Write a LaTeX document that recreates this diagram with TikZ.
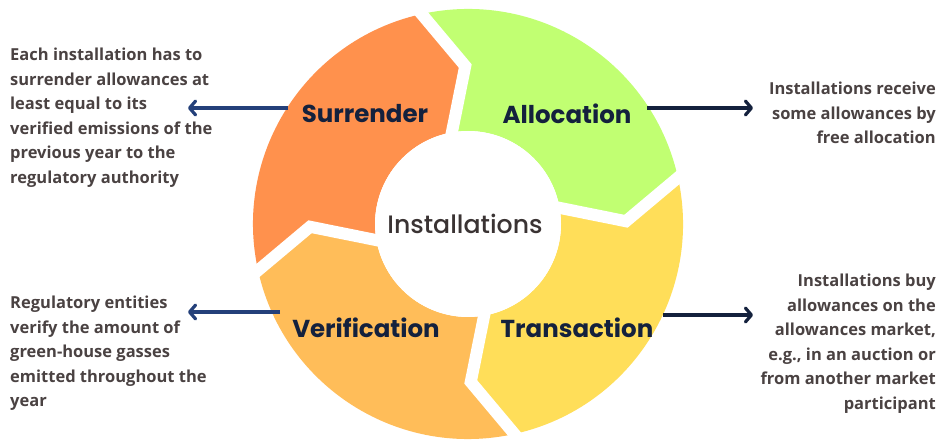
\documentclass[tikz,border=0pt]{standalone}
\usepackage{fontspec}
\setmainfont{Open Sans}
\newfontfamily\pop{Poppins}
\newfontfamily\popm{Poppins}[UprightFont=* Medium]
\usetikzlibrary{arrows.meta,calc}
\definecolor{cSur}{HTML}{FF914D}
\definecolor{cAll}{HTML}{C1FF72}
\definecolor{cTra}{HTML}{FFDE59}
\definecolor{cVer}{HTML}{FFBD59}
\definecolor{navyL}{HTML}{24407A}
\definecolor{navyR}{HTML}{14213D}
\definecolor{txt}{HTML}{4A4242}
\definecolor{ctr}{HTML}{3A3333}
\tikzset{
  desc/.style={font=\fontsize{16.5}{24.5}\selectfont\bfseries, text=txt, inner sep=0pt},
  stage/.style={font=\pop\fontsize{24.5}{28}\selectfont\bfseries, text=navyR, inner sep=0pt},
  gapline/.style={white, line width=12pt, line cap=rect, line join=miter},
  lead/.style={line width=3.2pt, -{Straight Barb[length=6pt,width=14pt,round]}},
}
\newcommand{\Ro}{215}
\newcommand{\Ri}{93}
\newcommand{\Rt}{158}
\newcommand{\segment}[3]{% #1 start boundary angle, #2 end boundary angle, #3 colour
  \fill[#3] (#1:\Ro) arc[start angle=#1, end angle=#2, radius=\Ro]
    -- ({#2-12}:\Rt) -- ({#2-2}:\Ri)
    arc[start angle={#2-2}, end angle={#1-2}, radius=\Ri]
    -- ({#1-12}:\Rt) -- cycle;}
\begin{document}
\begin{tikzpicture}[x=1pt,y=1pt]
\useasboundingbox (0,0) rectangle (942,439);
\fill[white] (0,0) rectangle (942,439);
\begin{scope}[shift={(468,215)}]
  \segment{103}{13}{cAll}
  \segment{13}{-77}{cTra}
  \segment{-77}{-167}{cVer}
  \segment{193}{103}{cSur}
  \foreach \b in {103,13,-77,-167}
    \draw[gapline] (\b:{\Ro+4}) -- ({\b-12}:\Rt) -- ({\b-2}:{\Ri-4});
  \fill[white] (0,0) circle (\Ri);
  \node[font=\popm\fontsize{25.2}{28}\selectfont, text=ctr] (ctr) at (-3,0) {Installations};
\end{scope}
\node[stage] (sur) at (365,325) {Surrender};
\node[stage] (all) at (567,325) {Allocation};
\node[stage] (ver) at (366,111) {Verification};
\node[stage] (tra) at (577,111) {Transaction};

\node[desc, align=left, anchor=north west] (d1) at (10,391) {Each installation has to\\surrender allowances at\\least equal to its\\verified emissions of the\\previous year to the\\regulatory authority};
\node[desc, align=right, anchor=north east] (d2) at (936,357) {Installations receive\\some allowances by\\free allocation};
\node[desc, align=left, anchor=north west] (d3) at (10,143) {Regulatory entities\\verify the amount of\\green-house gasses\\emitted throughout the\\year};
\node[desc, align=right, anchor=north east] (d4) at (936,165) {Installations buy\\allowances on the\\allowances market,\\e.g., in an auction or\\from another market\\participant};

\coordinate (s1) at (288,331);
\coordinate (e1) at (188,331);
\coordinate (s2) at (647,331);
\coordinate (e2) at (753,331);
\coordinate (s3) at (280,127);
\coordinate (e3) at (188,127);
\coordinate (s4) at (663,124);
\coordinate (e4) at (753,124);
\draw[lead, navyL] (s1) -- (e1);
\draw[lead, navyR] (s2) -- (e2);
\draw[lead, navyL] (s3) -- (e3);
\draw[lead, navyR] (s4) -- (e4);
\end{tikzpicture}
\end{document}
